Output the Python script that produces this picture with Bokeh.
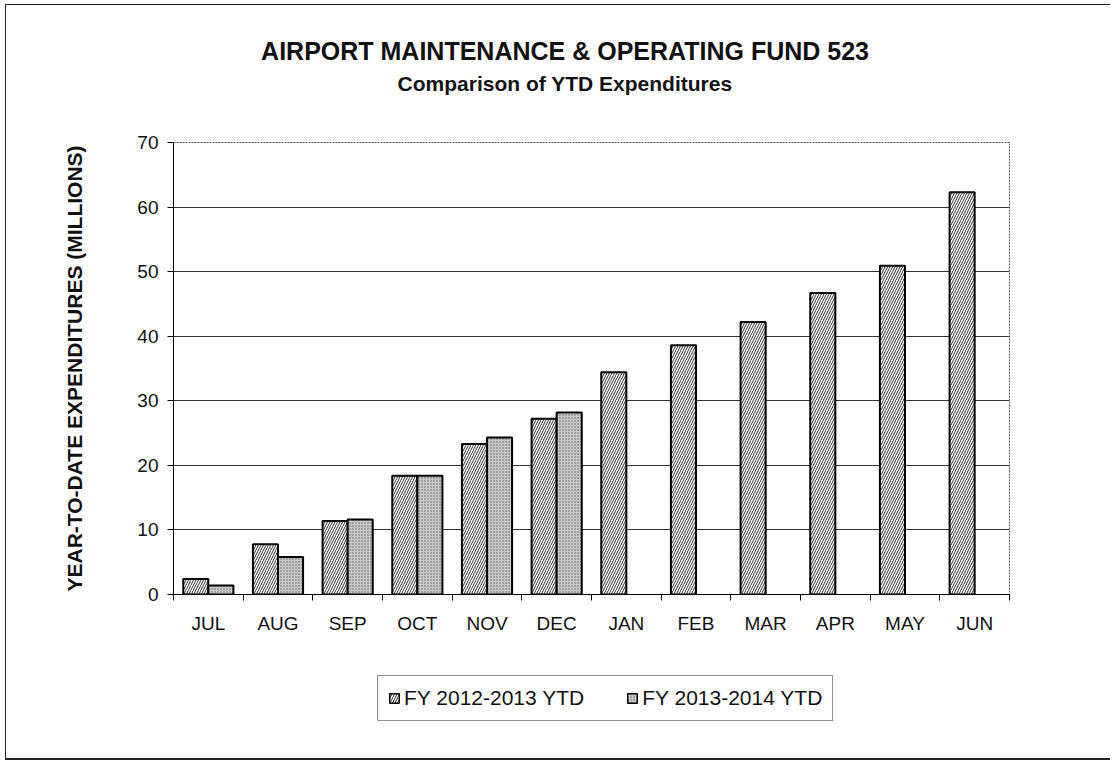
import numpy as np
from bokeh.plotting import figure
from bokeh.layouts import column
from bokeh.models import (Range1d, FixedTicker, Legend, LegendItem, Label, ColumnDataSource)
from bokeh.embed import file_html
from bokeh.resources import INLINE

months = ["JUL", "AUG", "SEP", "OCT", "NOV", "DEC", "JAN", "FEB", "MAR", "APR", "MAY", "JUN"]
fy_2012_2013 = [2.4, 7.8, 11.4, 18.4, 23.3, 27.2, 34.4, 38.6, 42.2, 46.7, 50.9, 62.3]
fy_2013_2014 = [1.4, 5.8, 11.6, 18.4, 24.3, 28.2]
series_names = ["FY 2012-2013 YTD", "FY 2013-2014 YTD"]
y_ticks = [0, 10, 20, 30, 40, 50, 60, 70]
title_lines = ["AIRPORT MAINTENANCE & OPERATING FUND 523", "Comparison of YTD Expenditures"]
y_label = "YEAR-TO-DATE EXPENDITURES (MILLIONS)"

FONT = "Liberation Sans"
OX, OY = 6, 5              # page position of the content's top-left corner
W = 1105
HA, HC = 120, 114          # title strip, legend strip
FX0, FX1 = 173, 1010       # page x of the plot frame (strips share it through alignment)
FL, FT, FW, FH, FB = FX0 - OX, 142 - OY - HA, FX1 - FX0, 452, 50
HB = FT + FH + FB

style_1 = dict(fill_color="white", line_color="black",
               hatch_pattern="right_diagonal_line", hatch_color="#333333",
               hatch_scale=5, hatch_weight=1)
style_2 = dict(fill_color="#c8c8c8", line_color="black",
               hatch_pattern="dot", hatch_color="#666666", hatch_scale=3, hatch_weight=1)


def strip(height, y0):
    # x and y in page pixels
    f = figure(width=W, height=height, output_backend="svg", toolbar_location=None,
               x_range=Range1d(FX0, FX1), y_range=Range1d(y0 + height, y0),
               min_border_left=FL, min_border_right=W - FL - FW,
               min_border_top=0, min_border_bottom=0,
               x_axis_location=None, y_axis_location=None)
    f.xgrid.grid_line_color = None
    f.ygrid.grid_line_color = None
    f.outline_line_color = None
    return f


centers = np.arange(len(months)) + 0.5
bw = 0.36
src1 = ColumnDataSource(dict(x=centers - bw / 2, top=fy_2012_2013))
src2 = ColumnDataSource(dict(x=centers[:len(fy_2013_2014)] + bw / 2, top=fy_2013_2014))

# ---- title strip ----
pa = strip(HA, OY)
for t, yy, fs in zip(title_lines, [50, 83], ["25px", "21px"]):
    pa.add_layout(Label(x=565, y=yy, text=t, text_align="center", text_baseline="middle",
                        text_font=FONT, text_font_size=fs, text_font_style="bold",
                        text_color="#111"))

# ---- chart ----
p = figure(width=W, height=HB, output_backend="svg", toolbar_location=None,
           x_range=Range1d(0, len(months)), y_range=Range1d(0, 70),
           min_border_left=FL, min_border_top=FT,
           min_border_right=W - FL - FW, min_border_bottom=FB)

p.vbar(x="x", top="top", width=bw, source=src1, line_width=2, **style_1)
p.vbar(x="x", top="top", width=bw, source=src2, line_width=2, **style_2)

p.xaxis.ticker = FixedTicker(ticks=list(centers), minor_ticks=list(range(len(months) + 1)))
p.xaxis.major_label_overrides = {float(c): m for c, m in zip(centers, months)}
p.xaxis.major_tick_line_color = None
p.xaxis.minor_tick_line_color = "black"
p.xaxis.minor_tick_out = 6
p.xaxis.minor_tick_in = 0
p.xaxis.axis_line_color = "black"
p.xaxis.major_label_text_font = FONT
p.xaxis.major_label_text_font_size = "19px"
p.xaxis.major_label_text_color = "#111"
p.xaxis.major_label_standoff = 12

p.yaxis.ticker = FixedTicker(ticks=y_ticks)
p.yaxis.minor_tick_line_color = None
p.yaxis.major_tick_out = 6
p.yaxis.major_tick_in = 0
p.yaxis.axis_line_color = "black"
p.yaxis.major_label_text_font = FONT
p.yaxis.major_label_text_font_size = "19px"
p.yaxis.major_label_text_color = "#111"
p.yaxis.major_label_standoff = 9
p.yaxis.axis_label = y_label
p.yaxis.axis_label_text_font = FONT
p.yaxis.axis_label_text_font_size = "21px"
p.yaxis.axis_label_text_font_style = "bold"
p.yaxis.axis_label_text_color = "#111"
p.yaxis.axis_label_standoff = 48

p.xgrid.grid_line_color = None
p.ygrid.ticker = FixedTicker(ticks=y_ticks)
p.ygrid.grid_line_color = "#333333"
p.ygrid.grid_line_width = 1
p.outline_line_color = "#555555"
p.outline_line_dash = "2 1"

# ---- legend strip ----
y0c = OY + HA + HB
pc = strip(HC, y0c)
# same series, hidden: they only feed the legend swatches
g1 = pc.vbar(x="x", top="top", width=bw, source=src1, line_width=1.5, visible=False, **style_1)
g2 = pc.vbar(x="x", top="top", width=bw, source=src2, line_width=1.5, visible=False, **style_2)
legend = Legend(items=[LegendItem(label=series_names[0], renderers=[g1]),
                       LegendItem(label=series_names[1], renderers=[g2])],
                orientation="horizontal", location=(377 - FX0, y0c + HC - 721),
                label_text_font=FONT, label_text_font_size="21px", label_text_color="#111",
                glyph_width=12, glyph_height=12, label_standoff=4, spacing=42,
                padding=10, margin=0, border_line_color="#222", border_line_width=1,
                background_fill_alpha=1, inactive_fill_alpha=0)
pc.add_layout(legend, "center")

layout = column(pa, p, pc, spacing=0)
layout.styles = {"margin-left": f"{OX - 1}px", "margin-top": f"{OY - 1}px",
                 "border-left": "1px solid #222", "border-top": "1px solid #222",
                 "border-bottom": "2px solid #222", "width": f"{W}px"}

open("out.html", "w").write(file_html(layout, INLINE))
